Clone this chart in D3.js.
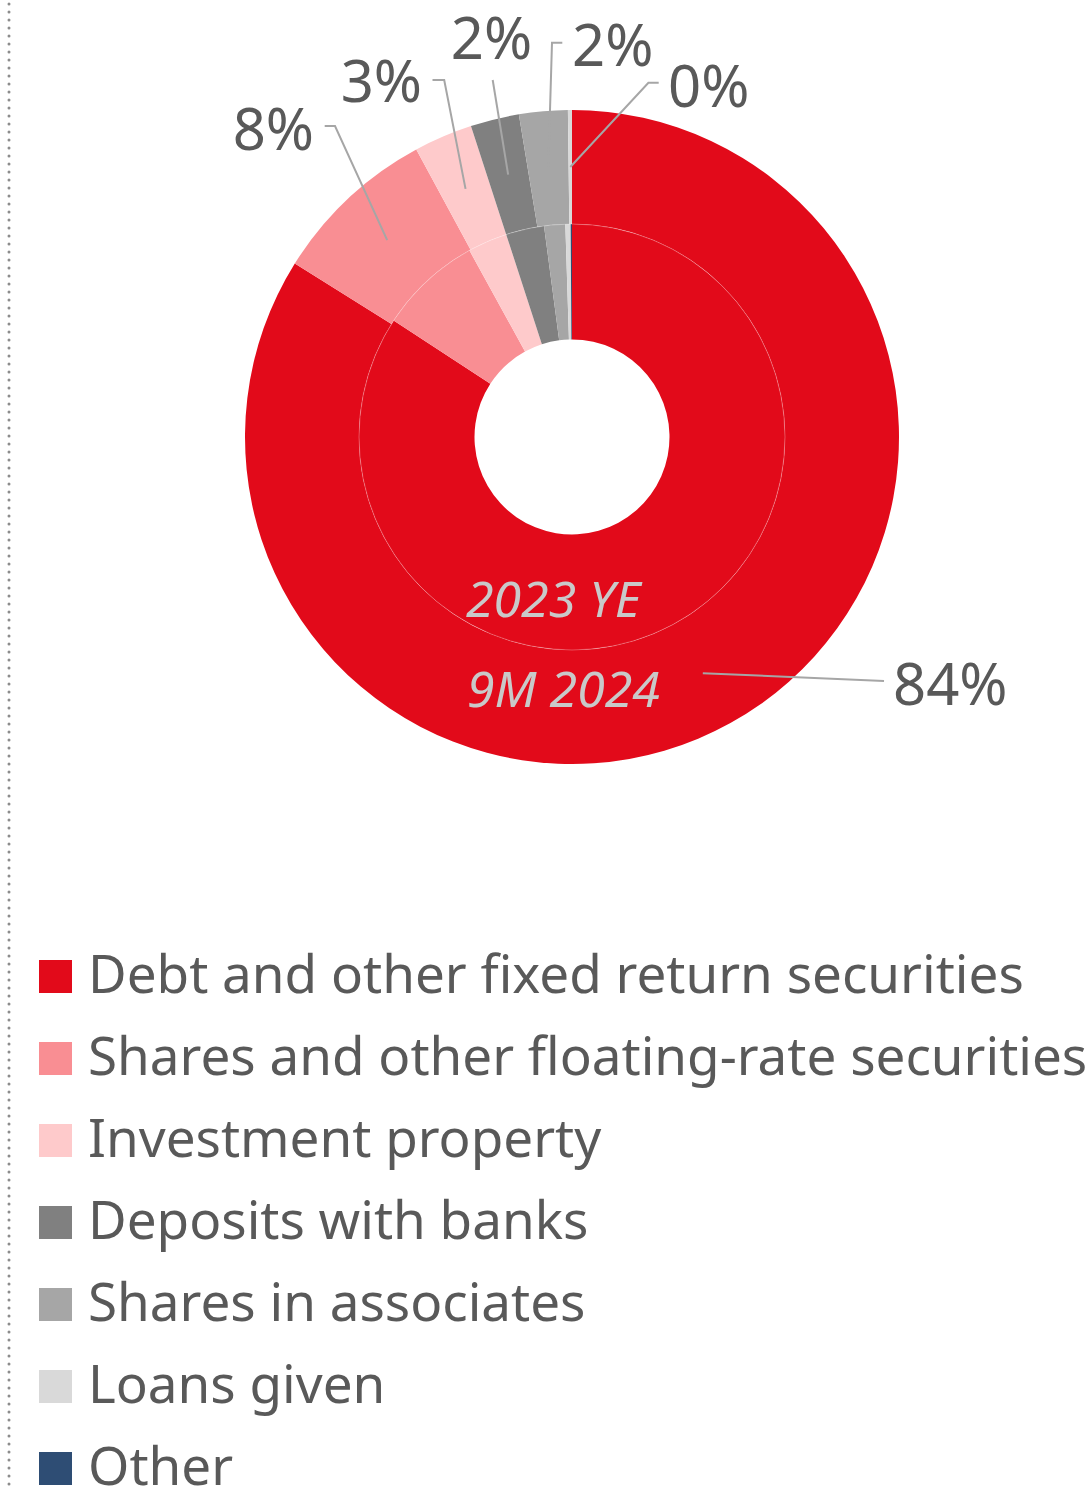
<!DOCTYPE html>
<html>
<head>
<meta charset="utf-8">
<script src="https://cdn.jsdelivr.net/npm/d3@7"></script>
<style>
  html, body { margin: 0; padding: 0; background: #ffffff; }
  svg { display: block; }
  text { font-family: "Noto Sans", "Open Sans", sans-serif; }
</style>
</head>
<body>
<svg id="chart" width="1092" height="1490"></svg>
<script>
// Portfolio structure, % of total
const categories = [
  "Debt and other fixed return securities",
  "Shares and other floating-rate securities",
  "Investment property",
  "Deposits with banks",
  "Shares in associates",
  "Loans given",
  "Other"
];
const colors = ["#e20a1a", "#f98e93", "#fecacb", "#808080", "#a6a6a6", "#d9d9d9", "#2e4d74"];
const values2023 = [84.2, 7.8, 3.0, 2.9, 1.6, 0.4, 0.1];   // inner ring
const values9m2024 = [83.9, 8.2, 2.9, 2.4, 2.4, 0.2, 0.0]; // outer ring
const valueLabels = ["84%", "8%", "3%", "2%", "2%", "0%", ""];
const ringNames = ["2023 YE", "9M 2024"];

const svg = d3.select("#chart");
const cx = 572, cy = 437;
const rHole = 97.5, rMid = 213, rOuter = 327, rLeader = 270;

// dotted rule on the left edge
svg.append("line")
  .attr("x1", 9).attr("x2", 9).attr("y1", 4).attr("y2", 1490)
  .attr("stroke", "#8c8c8c").attr("stroke-width", 3)
  .attr("stroke-linecap", "round").attr("stroke-dasharray", "0 8");

const g = svg.append("g").attr("transform", `translate(${cx},${cy})`);
const pie = d3.pie().sort(null).value(d => d).startAngle(0).endAngle(2 * Math.PI);

const innerArc = d3.arc().innerRadius(rHole).outerRadius(rMid);
const outerArc = d3.arc().innerRadius(rMid).outerRadius(rOuter);

g.selectAll("path.inner").data(pie(values2023)).join("path")
  .attr("class", "inner").attr("d", innerArc)
  .attr("fill", (d, i) => colors[i]);

g.selectAll("path.outer").data(pie(values9m2024)).join("path")
  .attr("class", "outer").attr("d", outerArc)
  .attr("fill", (d, i) => colors[i]);

// faint seam between the two rings
g.append("circle").attr("r", rMid).attr("fill", "none")
  .attr("stroke", "rgba(255,255,255,0.35)").attr("stroke-width", 0.8);

// leader lines and value labels for the outer ring
const leaderArc = d3.arc().innerRadius(rLeader).outerRadius(rLeader);
// per-label layout: bend points (relative to the ring centre) and text placement
const labelLayout = [
  { pts: [[312, 244]], tx: 321, ty: 268, anchor: "start" },
  { pts: [[-237, -311], [-247.3, -311]], tx: -258, ty: -287, anchor: "end" },
  { pts: [[-127.8, -357], [-139.5, -357]], tx: -150, ty: -335, anchor: "end" },
  { pts: [[-79.3, -357]], tx: -80.5, ty: -378, anchor: "middle" },
  { pts: [[-20, -394.3], [-9.7, -394.3]], tx: 0, ty: -371.5, anchor: "start" },
  { pts: [[76.4, -354.3], [86.7, -354.3]], tx: 96, ty: -330.5, anchor: "start" },
  null
];

const outerSlices = pie(values9m2024);
outerSlices.forEach((d, i) => {
  const lay = labelLayout[i];
  if (!lay || !valueLabels[i]) return;
  const start = leaderArc.centroid(d);
  const pts = [start].concat(lay.pts);
  g.append("path")
    .attr("d", d3.line()(pts))
    .attr("fill", "none").attr("stroke", "#a6a6a6").attr("stroke-width", 2);
  g.append("text")
    .attr("x", lay.tx).attr("y", lay.ty)
    .attr("text-anchor", lay.anchor)
    .attr("font-size", 58).attr("fill", "#595959")
    .text(valueLabels[i]);
});

// ring captions
g.append("text").attr("x", -106).attr("y", 180)
  .attr("font-size", 50).attr("font-style", "italic").attr("fill", "#c9c9c9")
  .text(ringNames[0]);
g.append("text").attr("x", -105).attr("y", 270)
  .attr("font-size", 50).attr("font-style", "italic").attr("fill", "#c9c9c9")
  .text(ringNames[1]);

// legend
const legend = svg.append("g").attr("transform", "translate(39,960)");
const rowStep = 82, sw = 33;
const rows = legend.selectAll("g.row").data(categories).join("g")
  .attr("class", "row")
  .attr("transform", (d, i) => `translate(0,${i * rowStep})`);
rows.append("rect").attr("width", sw).attr("height", sw)
  .attr("fill", (d, i) => colors[i]);
rows.append("text").attr("x", 49).attr("y", 33)
  .attr("font-size", 53).attr("fill", "#595959")
  .text(d => d);
</script>
</body>
</html>
